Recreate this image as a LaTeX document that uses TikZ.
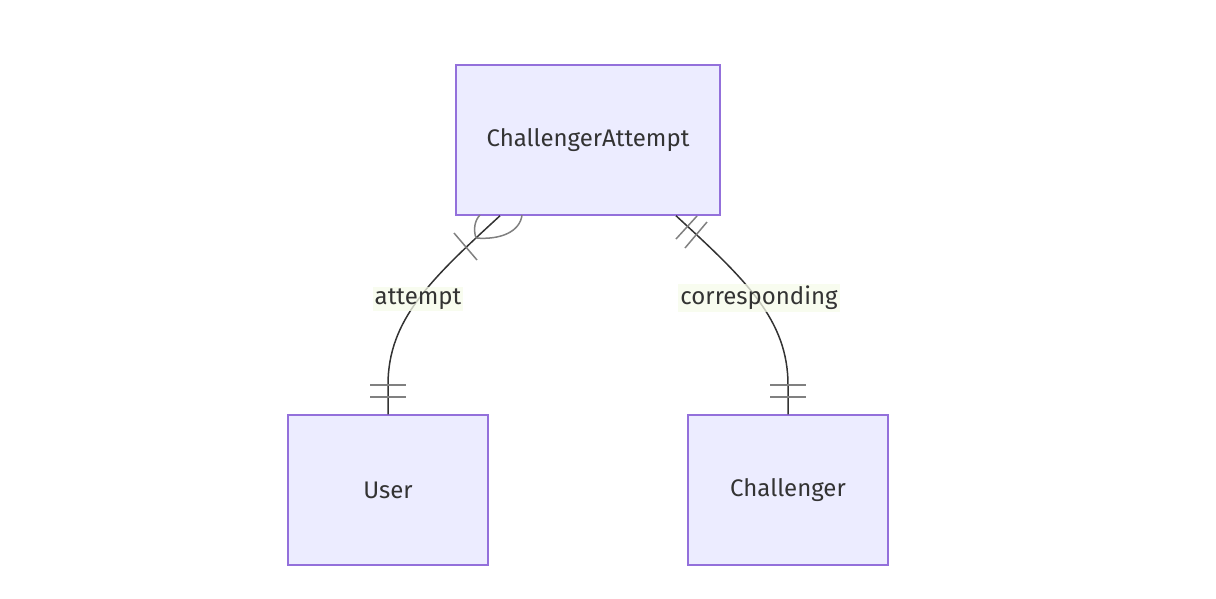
\documentclass[tikz,border=0pt]{standalone}
\usepackage{fontspec}
\setmainfont{Fira Sans}
\definecolor{boxfill}{HTML}{ECECFF}
\definecolor{boxline}{HTML}{9370DB}
\definecolor{txt}{HTML}{333333}
\definecolor{lblbg}{HTML}{F6FBE9}
\definecolor{mark}{HTML}{808080}
\tikzset{
  entity/.style={draw=boxline, fill=boxfill, line width=1.5pt, minimum width=200pt, minimum height=150pt, inner sep=0pt, text=txt, font=\fontsize{24}{28}\selectfont},
  rel/.style={draw=txt, line width=1.5pt},
  marker/.style={draw=mark, line width=1.5pt},
  lbl/.style={fill=lblbg, fill opacity=0.75, text opacity=1, text=txt, inner sep=2pt, font=\fontsize{24}{28}\selectfont}
}
\begin{document}
\begin{tikzpicture}[x=1pt,y=-1pt]
\useasboundingbox (0,0) rectangle (1216,598);
\node[entity, minimum width=264pt] (ca) at (588,140) {ChallengerAttempt};
\node[entity] (user) at (388,490) {User};
\node[entity] (ch) at (788,490) {Challenger};
\coordinate (e1s) at ([xshift=-88pt]ca.south);
\coordinate (e2s) at ([xshift=88pt]ca.south);
% edges
\draw[rel] (e1s) .. controls (430,280) and (388,320) .. (388,385) -- (user.north);
\draw[rel] (e2s) .. controls (746,280) and (788,320) .. (788,385) -- (ch.north);
% labels
\node[lbl] (l1) at (418,299) {attempt};
\node[lbl] (l2) at (759,298) {corresponding};
% markers edge 1 (one or more at ChallengerAttempt)
\coordinate (apex) at (476,238);
\draw[marker] (apex) .. controls (473,229) and (475,220) .. (480,215);
\draw[marker] (apex) .. controls (500,240) and (520,232) .. (522,215);
\draw[marker] (454,233) -- (477,260);
\draw[marker] (370,385) -- (406,385);
\draw[marker] (370,397) -- (406,397);
% markers edge 2
\draw[marker] (676,239) -- (697,216);
\draw[marker] (685,248) -- (707,222);
\draw[marker] (770,385) -- (806,385);
\draw[marker] (770,397) -- (806,397);
\end{tikzpicture}
\end{document}
